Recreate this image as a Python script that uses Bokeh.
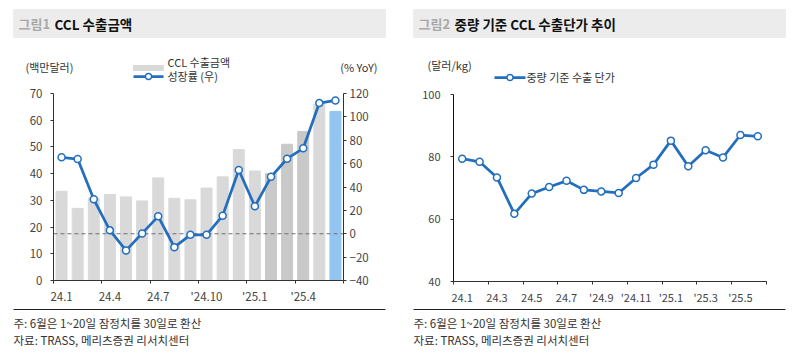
from bokeh.plotting import figure
from bokeh.layouts import row, column
from bokeh.models import Range1d, LinearAxis, FixedTicker, ColumnDataSource
from bokeh.core.properties import value
from bokeh.embed import file_html
from bokeh.resources import INLINE

FONT = "Noto Sans CJK KR"

# ---------------- data ----------------
months = ["24.1", "24.2", "24.3", "24.4", "24.5", "24.6", "24.7", "24.8", "24.9",
          "24.10", "24.11", "24.12", "25.1", "25.2", "25.3", "25.4", "25.5", "25.6"]

# CCL export amount (USD mn, left axis)
export_amount = [33.4, 27.0, 30.8, 32.2, 31.3, 29.8, 38.4, 30.8, 30.2,
                 34.6, 38.8, 49.0, 41.0, 40.0, 51.0, 55.8, 66.0, 63.3]
# growth rate (% YoY, right axis)
growth = [65.4, 63.9, 29.5, 2.9, -14.3, 0.3, 14.9, -11.5, -0.9,
          -0.9, 15.5, 54.5, 23.5, 48.7, 64.2, 73.1, 111.8, 114.1]
# unit price by weight (USD/kg)
unit_price = [79.4, 78.4, 73.4, 61.7, 68.2, 70.3, 72.3, 69.4, 68.9,
              68.4, 73.2, 77.5, 85.2, 77.0, 82.1, 79.8, 87.0, 86.6]

xtick_labels1 = ["24.1", "24.4", "24.7", "'24.10", "'25.1", "'25.4"]
xtick_labels2 = ["24.1", "24.3", "24.5", "24.7", "'24.9", "'24.11", "'25.1", "'25.3", "'25.5"]
ytick_left1 = [0, 10, 20, 30, 40, 50, 60, 70]
ytick_right1 = [-40, -20, 0, 20, 40, 60, 80, 100, 120]
ytick_left2 = [40, 60, 80, 100]

title1_tag, title1 = "그림1", "CCL 수출금액"
title2_tag, title2 = "그림2", "중량 기준 CCL 수출단가 추이"
unit1_left, unit1_right = "(백만달러)", "(% YoY)"
unit2_left = "(달러/kg)"
legend1_bar, legend1_line = "CCL 수출금액", "성장률 (우)"
legend2_line = "중량 기준 수출 단가"
note = "주: 6월은 1~20일 잠정치를 30일로 환산"
source_txt = "자료: TRASS, 메리츠증권 리서치센터"

# ---------------- style ----------------
BLUE = "#236fbd"
BAR_GRAY = "#d9d9d9"
BAR_DARK = "#c9c9c9"
BAR_HL = "#92c5f0"
AXIS_C = "#333333"
TICK_C = "#444444"
dark_months = {"25.2", "25.3", "25.4"}
hl_month = "25.6"
bar_colors = [BAR_HL if m == hl_month else (BAR_DARK if m in dark_months else BAR_GRAY)
              for m in months]

n = len(months)
xs = [i + 0.5 for i in range(n)]


def deco_fig(h):
    p = figure(width=400, height=h, x_range=Range1d(0, 400), y_range=Range1d(h, 0),
               output_backend="svg", toolbar_location=None,
               x_axis_type=None, y_axis_type=None, min_border=0, frame_align=False)
    p.outline_line_color = None
    return p


def txt(p, x, y, s, size="11px", color="#333333", align="left", style="normal"):
    p.text(x=[x], y=[y], text=[s], text_font=value(FONT), text_font_size=size,
           text_color=color, text_align=align, text_baseline="middle",
           text_font_style=style)


def header(tag, title, x0):
    p = deco_fig(85)
    p.quad(left=[x0], right=[x0 + 372], top=[9], bottom=[37], color="#ececec")
    txt(p, x0 + 5, 23, tag, size="13px", color="#a8a8a8", style="bold")
    txt(p, x0 + 41, 23, title, size="13.5px", color="#111111", style="bold")
    return p


def footer():
    p = deco_fig(49)
    p.line(x=[13, 385], y=[2, 2], line_color="#222222", line_width=1.2)
    txt(p, 13, 15, note, size="11.5px")
    txt(p, 13, 32.5, source_txt, size="11.5px")
    return p


def style_axis(ax, size="11px"):
    ax.axis_line_color = AXIS_C
    ax.axis_line_width = 1
    ax.major_tick_line_color = AXIS_C
    ax.major_tick_out = 3
    ax.major_tick_in = 0
    ax.minor_tick_line_color = None
    ax.major_label_text_font = FONT
    ax.major_label_text_font_size = size
    ax.major_label_text_color = TICK_C


def style_xaxis(ax, step, labels):
    majors = [i * step + 0.5 for i in range(len(labels))]
    ax.ticker = FixedTicker(ticks=majors, minor_ticks=list(range(0, n + 1, step)))
    ax.major_label_overrides = {t: l for t, l in zip(majors, labels)}
    style_axis(ax, "11.5px")
    ax.major_tick_line_color = None
    ax.minor_tick_line_color = AXIS_C
    ax.minor_tick_out = 3
    ax.minor_tick_in = 0
    ax.major_label_standoff = 4


# ---------------- panel 1 ----------------
h1 = header(title1_tag, title1, 13)
txt(h1, 25, 66, unit1_left)
txt(h1, 377, 66, unit1_right, align="right")
h1.quad(left=[133], right=[163], top=[65], bottom=[70], color=BAR_GRAY)
txt(h1, 167, 61, legend1_bar)
h1.line(x=[133, 163], y=[76, 76], line_color=BLUE, line_width=2.75)
h1.scatter(x=[148], y=[76], size=6, fill_color="white", line_color=BLUE, line_width=1.3)
txt(h1, 167, 75, legend1_line)

c1 = figure(width=400, height=222, x_range=Range1d(0, n), y_range=Range1d(0, 70),
            output_backend="svg", toolbar_location=None, frame_align=False,
            min_border_left=53, min_border_right=57, min_border_top=8, min_border_bottom=27)
c1.extra_y_ranges = {"yoy": Range1d(-40, 120)}
c1.grid.visible = False
c1.outline_line_color = None

src1 = ColumnDataSource(dict(x=xs, amount=export_amount, growth=growth, color=bar_colors))
c1.vbar(x="x", top="amount", width=0.68, color="color", source=src1)
c1.line(x=[0, n], y=[0, 0], y_range_name="yoy", line_color="#6f6f6f",
        line_dash="4 3", line_width=1)
c1.line(x="x", y="growth", y_range_name="yoy", source=src1, line_color=BLUE, line_width=2.75)
c1.scatter(x="x", y="growth", y_range_name="yoy", source=src1, size=7,
           fill_color="white", line_color=BLUE, line_width=1.5)

c1.yaxis.ticker = FixedTicker(ticks=ytick_left1)
style_axis(c1.yaxis[0], "11.5px")
c1.yaxis.major_label_standoff = 8
ax_r = LinearAxis(y_range_name="yoy", ticker=FixedTicker(ticks=ytick_right1))
style_axis(ax_r, "11.5px")
ax_r.major_label_standoff = 3
c1.add_layout(ax_r, "right")
style_xaxis(c1.xaxis[0], 3, xtick_labels1)

f1 = footer()

# ---------------- panel 2 ----------------
h2 = header(title2_tag, title2, 13)
txt(h2, 27, 64, unit2_left)
h2.line(x=[94, 125], y=[77, 77], line_color=BLUE, line_width=2.75)
h2.scatter(x=[109.5], y=[77], size=6, fill_color="white", line_color=BLUE, line_width=1.3)
txt(h2, 126, 76, legend2_line)

c2 = figure(width=400, height=222, x_range=Range1d(0, n), y_range=Range1d(40, 100),
            output_backend="svg", toolbar_location=None, frame_align=False,
            min_border_left=53, min_border_right=34, min_border_top=9, min_border_bottom=26)
c2.grid.visible = False
c2.outline_line_color = None
src2 = ColumnDataSource(dict(x=xs, price=unit_price))
c2.line(x="x", y="price", source=src2, line_color=BLUE, line_width=2.75)
c2.scatter(x="x", y="price", source=src2, size=7, fill_color="white",
           line_color=BLUE, line_width=1.5)
c2.yaxis.ticker = FixedTicker(ticks=ytick_left2)
style_axis(c2.yaxis[0], "11px")
c2.yaxis.axis_line_color = "#111111"
c2.yaxis.major_label_standoff = 10
style_xaxis(c2.xaxis[0], 2, xtick_labels2)
c2.xaxis.major_label_text_font_size = "11px"

f2 = footer()

layout = row(column(h1, c1, f1), column(h2, c2, f2))
open("out.html", "w").write(file_html(layout, INLINE))
